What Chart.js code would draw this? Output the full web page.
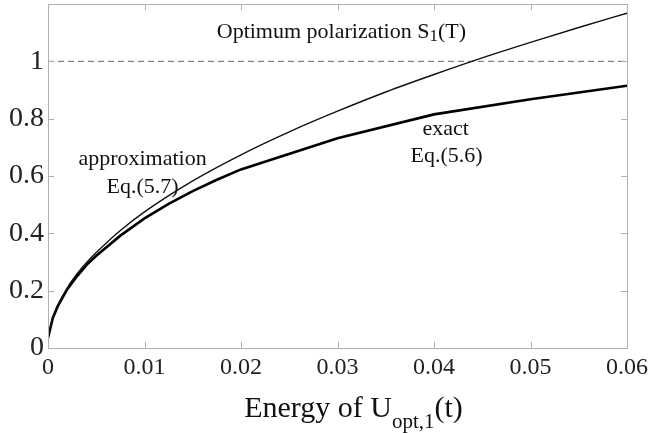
<!DOCTYPE html>
<html lang="en">

<head>
    <meta charset="UTF-8">
    <title>Optimum polarization</title>
    <script src="https://cdn.jsdelivr.net/npm/chart.js"></script>
    <style>
        html, body { margin: 0; padding: 0; background: #fff; }
        .wrap { width: 651px; height: 433px; position: relative; }
    </style>
</head>

<body>
    <div class="wrap">
        <canvas id="polChart"></canvas>
    </div>

    <script>
        // energy values (x) and the two curves
        const approxX = [0, 0.0005, 0.001, 0.002, 0.003, 0.004, 0.005, 0.0075, 0.01, 0.015, 0.02, 0.025, 0.03, 0.035, 0.04, 0.045, 0.05, 0.055, 0.06];
        const approxY = [0.035, 0.105, 0.148, 0.21, 0.258, 0.298, 0.333, 0.41, 0.475, 0.583, 0.674, 0.754, 0.826, 0.893, 0.954, 1.012, 1.066, 1.118, 1.168];

        const exactX = [0, 0.0005, 0.001, 0.002, 0.003, 0.004, 0.005, 0.0075, 0.01, 0.0125, 0.015, 0.0175, 0.02, 0.03, 0.04, 0.05, 0.06];
        const exactY = [0.035, 0.105, 0.145, 0.205, 0.25, 0.29, 0.322, 0.392, 0.452, 0.503, 0.547, 0.587, 0.623, 0.732, 0.815, 0.868, 0.915];

        const limitX = [0, 0.06];
        const limitY = [1, 1];

        const xTicks = [0, 0.01, 0.02, 0.03, 0.04, 0.05, 0.06];
        const yTicks = [0, 0.2, 0.4, 0.6, 0.8, 1];

        const serif = '"Liberation Serif", "DejaVu Serif", serif';
        const toPoints = (xs, ys) => xs.map((x, i) => ({ x: x, y: ys[i] }));

        // frame, inward ticks and the text labels (MATLAB style)
        const figurePlugin = {
            id: 'figurePlugin',
            afterDraw(chart) {
                const ctx = chart.ctx;
                const a = chart.chartArea;
                const xs = chart.scales.x;
                const ys = chart.scales.y;
                ctx.save();
                ctx.strokeStyle = '#b0b0b0';
                ctx.lineWidth = 1;
                ctx.strokeRect(Math.round(a.left) + 0.5, Math.round(a.top) + 0.5, Math.round(a.right - a.left), Math.round(a.bottom - a.top));
                ctx.beginPath();
                xTicks.forEach(v => {
                    const px = Math.round(xs.getPixelForValue(v)) + 0.5;
                    ctx.moveTo(px, a.bottom); ctx.lineTo(px, a.bottom - 6);
                    ctx.moveTo(px, a.top); ctx.lineTo(px, a.top + 6);
                });
                yTicks.forEach(v => {
                    const py = Math.round(ys.getPixelForValue(v)) + 0.5;
                    ctx.moveTo(a.left, py); ctx.lineTo(a.left + 6, py);
                    ctx.moveTo(a.right, py); ctx.lineTo(a.right - 6, py);
                });
                ctx.stroke();

                ctx.fillStyle = '#111';
                ctx.textBaseline = 'alphabetic';

                // title inside the plot: Optimum polarization S1(T)
                const big = '22px ' + serif, sub = '17px ' + serif;
                ctx.font = big;
                const p1 = 'Optimum polarization S', p3 = '(T)';
                const w1 = ctx.measureText(p1).width, w3 = ctx.measureText(p3).width;
                ctx.font = sub;
                const w2 = ctx.measureText('1').width;
                let tx = xs.getPixelForValue(0.0304) - (w1 + w2 + w3) / 2;
                const ty = ys.getPixelForValue(1.082);
                ctx.textAlign = 'left';
                ctx.font = big; ctx.fillText(p1, tx, ty);
                ctx.font = sub; ctx.fillText('1', tx + w1, ty + 3);
                ctx.font = big; ctx.fillText(p3, tx + w1 + w2, ty);

                // curve labels
                ctx.textAlign = 'center';
                ctx.font = big;
                ctx.fillText('approximation', xs.getPixelForValue(0.0098), ys.getPixelForValue(0.64));
                ctx.fillText('Eq.(5.7)', xs.getPixelForValue(0.0098), ys.getPixelForValue(0.542));
                ctx.fillText('exact', xs.getPixelForValue(0.0412), ys.getPixelForValue(0.742));
                ctx.fillText('Eq.(5.6)', xs.getPixelForValue(0.0413), ys.getPixelForValue(0.648));

                // x axis title: Energy of U_opt,1(t)
                const tb = '30px ' + serif, ts = '21px ' + serif;
                ctx.font = tb;
                const e1 = 'Energy of U', e3 = '(t)';
                const we1 = ctx.measureText(e1).width, we3 = ctx.measureText(e3).width;
                ctx.font = ts;
                const we2 = ctx.measureText('opt,1').width;
                let ex = (a.left + a.right) / 2 + 16 - (we1 + we2 + we3) / 2;
                const ey = 417;
                ctx.textAlign = 'left';
                ctx.font = tb; ctx.fillText(e1, ex, ey);
                ctx.font = ts; ctx.fillText('opt,1', ex + we1, ey + 11);
                ctx.font = tb; ctx.fillText(e3, ex + we1 + we2, ey);
                ctx.restore();
            }
        };

        const ctx = document.getElementById('polChart').getContext('2d');
        new Chart(ctx, {
            type: 'line',
            data: {
                datasets: [{
                    label: 'approximation Eq.(5.7)',
                    data: toPoints(approxX, approxY),
                    borderColor: '#111',
                    borderWidth: 1.4,
                    pointRadius: 0,
                    cubicInterpolationMode: 'monotone'
                }, {
                    label: 'exact Eq.(5.6)',
                    data: toPoints(exactX, exactY),
                    borderColor: '#000',
                    borderWidth: 2.6,
                    pointRadius: 0,
                    tension: 0
                }, {
                    label: 'S = 1',
                    data: toPoints(limitX, limitY),
                    borderColor: '#666',
                    borderWidth: 1,
                    borderDash: [6, 4],
                    pointRadius: 0
                }]
            },
            plugins: [figurePlugin],
            options: {
                responsive: true,
                maintainAspectRatio: false,
                animation: false,
                layout: { padding: { top: 4, right: 24, left: 0, bottom: 0 } },
                plugins: {
                    legend: { display: false },
                    tooltip: { enabled: false }
                },
                scales: {
                    x: {
                        type: 'linear',
                        min: 0,
                        max: 0.06,
                        afterBuildTicks: (scale) => { scale.ticks = xTicks.map(v => ({ value: v })); },
                        afterFit: (scale) => { scale.height = 85; scale.paddingLeft = 0; scale.paddingRight = 0; },
                        grid: { display: false, drawTicks: false },
                        border: { display: false },
                        ticks: {
                            color: '#222',
                            font: { family: serif, size: 24 },
                            padding: 5,
                            maxRotation: 0,
                            callback: (v) => v === 0 ? '0' : v.toFixed(2)
                        }
                    },
                    y: {
                        min: 0,
                        max: 1.2,
                        afterBuildTicks: (scale) => { scale.ticks = yTicks.map(v => ({ value: v })); },
                        afterFit: (scale) => { scale.width = 48; scale.paddingTop = 0; scale.paddingBottom = 0; },
                        grid: { display: false, drawTicks: false },
                        border: { display: false },
                        ticks: {
                            color: '#222',
                            font: { family: serif, size: 28 },
                            padding: 4,
                            callback: (v) => (v === 0 || v === 1) ? String(v) : v.toFixed(1)
                        }
                    }
                }
            }
        });
    </script>
</body>

</html>
